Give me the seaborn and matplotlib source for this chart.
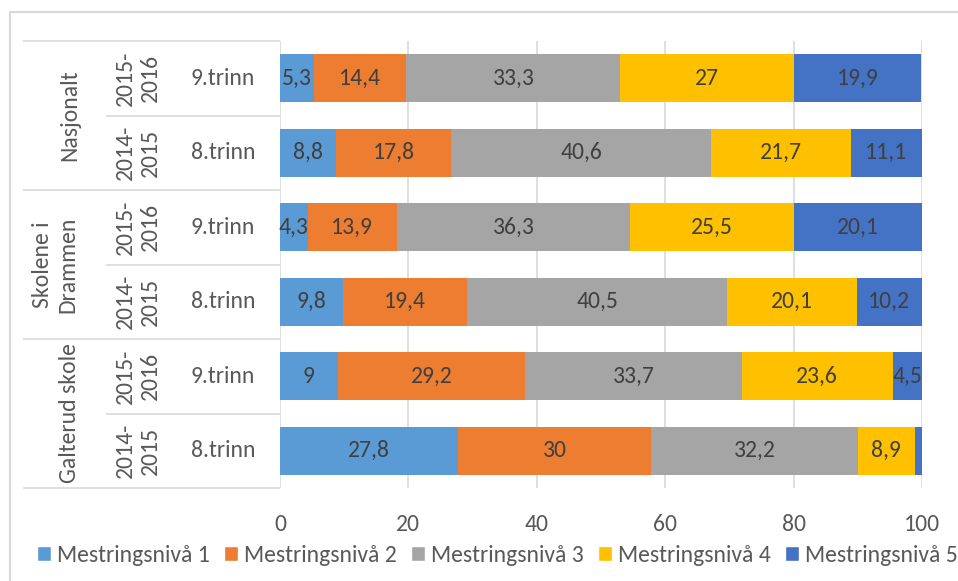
import pandas as pd
import seaborn as sns
import matplotlib.pyplot as plt
from matplotlib import font_manager
from matplotlib.lines import Line2D
from matplotlib.patches import Patch
from matplotlib.transforms import blended_transform_factory

groups = ['Nasjonalt', 'Skolene i\nDrammen', 'Galterud skole']
years = ['2015-\n2016', '2014-\n2015']
grades = ['9.trinn', '8.trinn']
levels = ['Mestringsnivå 1', 'Mestringsnivå 2', 'Mestringsnivå 3',
          'Mestringsnivå 4', 'Mestringsnivå 5']

# one value per row, top to bottom
niva1 = [5.3, 8.8, 4.3, 9.8, 9, 27.8]
niva2 = [14.4, 17.8, 13.9, 19.4, 29.2, 30]
niva3 = [33.3, 40.6, 36.3, 40.5, 33.7, 32.2]
niva4 = [27, 21.7, 25.5, 20.1, 23.6, 8.9]
niva5 = [19.9, 11.1, 20.1, 10.2, 4.5, 1.1]

colors = ['#5B9BD5', '#ED7D31', '#A5A5A5', '#FFC000', '#4472C4']

rows = [f'{g}|{y}' for g in groups for y in years]
df = pd.DataFrame(dict(zip(levels, [niva1, niva2, niva3, niva4, niva5])))
df['row'] = rows
cum = df[levels].cumsum(axis=1)
cum['row'] = rows

sns.set_theme(style='white')
available = {f.name for f in font_manager.fontManager.ttflist}
font = 'Carlito' if 'Carlito' in available else 'Lato'
fs = 17 if font == 'Carlito' else 15.5
plt.rcParams['font.family'] = [font, 'DejaVu Sans']

fig = plt.figure(figsize=(9.58, 5.81), dpi=100)
ax = fig.add_axes([280 / 958, 1 - 488 / 581, 642 / 958, 447 / 581])

# stacked bars: draw the cumulative totals from the largest down
for lev, col in reversed(list(zip(levels, colors))):
    sns.barplot(data=cum, x=lev, y='row', order=rows, color=col, orient='h',
                width=0.65, linewidth=0, saturation=1, errorbar=None, ax=ax)

for i, row in df.iterrows():
    for lev in levels:
        v = row[lev]
        if v < 2:
            continue
        x = cum.loc[i, lev] - v / 2
        ax.text(x, i, f'{v:g}'.replace('.', ','), ha='center', va='center',
                fontsize=fs, color='#404040')

ax.set_xlim(0, 100)
ax.set_ylim(5.5, -0.5)
ax.set_xticks(range(0, 101, 20))
ax.set_yticks([])
ax.set_xlabel('')
ax.set_ylabel('')
ax.set_axisbelow(True)
ax.grid(axis='x', color='#D9D9D9', lw=1.2)
ax.grid(axis='y', visible=False)
for s in ax.spines.values():
    s.set_visible(False)
ax.tick_params(axis='x', length=0, pad=19, labelsize=fs, labelcolor='#595959')

# category table on the left
tr = blended_transform_factory(ax.transAxes, ax.transData)
x_outer = (23 - 280) / 642
x_inner = (106 - 280) / 642
ax.hlines([-0.5, 1.5, 3.5, 5.5], x_outer, 0, transform=tr, color='#D9D9D9',
          lw=1.2, clip_on=False)
ax.hlines([0.5, 2.5, 4.5], x_inner, 0, transform=tr, color='#D9D9D9',
          lw=1.2, clip_on=False)

group_x = [70, 55, 70]
for gi, g in enumerate(groups):
    ax.text((group_x[gi] - 280) / 642, gi * 2 + 0.5, g, transform=tr,
            rotation=90, ha='center', va='center', multialignment='center',
            linespacing=1.25, fontsize=fs, color='#595959')
    for yi, (yr, gr) in enumerate(zip(years, grades)):
        r = gi * 2 + yi
        ax.text((138 - 280) / 642, r, yr, transform=tr, rotation=90,
                ha='center', va='center', multialignment='center',
                linespacing=1.25, fontsize=fs, color='#595959')
        ax.text((223 - 280) / 642, r, gr, transform=tr, ha='center',
                va='center', fontsize=fs, color='#595959')

# outer chart frame
fig.add_artist(Line2D([10 / 958, 10 / 958], [0, 1 - 12 / 581],
                      color='#D9D9D9', lw=1.5))
fig.add_artist(Line2D([10 / 958, 1], [1 - 12 / 581, 1 - 12 / 581],
                      color='#D9D9D9', lw=1.5))

handles = [Patch(facecolor=c, label=l) for c, l in zip(colors, levels)]
fig.legend(handles=handles, loc='center', bbox_to_anchor=(497 / 958, 1 - 555 / 581),
           ncol=5, frameon=False, fontsize=fs, handlelength=0.6,
           handleheight=0.6, handletextpad=0.25, columnspacing=0.6,
           labelcolor='#595959')

fig.savefig('out.png', dpi=100)
